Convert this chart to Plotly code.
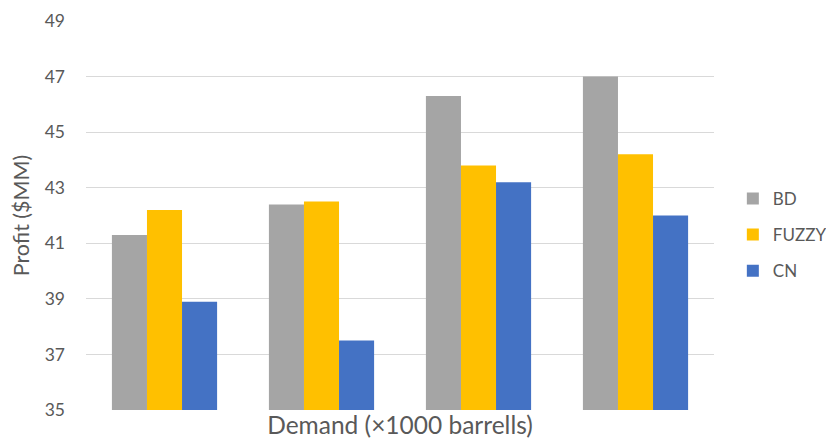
import plotly.graph_objects as go

categories = ["D1", "D2", "D3", "D4"]
bd = [41.3, 42.4, 46.3, 47.0]
fuzzy = [42.2, 42.5, 43.8, 44.2]
cn = [38.9, 37.5, 43.2, 42.0]
y_ticks = [35, 37, 39, 41, 43, 45, 47, 49]

FONT = "Lato"
TXT = "#595959"

fig = go.Figure()
fig.add_trace(go.Bar(name="BD", x=categories, y=bd, marker_color="#A5A5A5", legendgroup="a"))
fig.add_trace(go.Bar(name="FUZZY", x=categories, y=fuzzy, marker_color="#FFC000", legendgroup="b"))
fig.add_trace(go.Bar(name="CN", x=categories, y=cn, marker_color="#4472C4", legendgroup="c"))
fig.update_traces(marker_line_width=0)

fig.update_layout(
    width=826, height=439,
    margin=dict(l=86, r=112, t=20.5, b=29.4, autoexpand=False),
    paper_bgcolor="white", plot_bgcolor="white",
    barmode="group", bargap=0.33, bargroupgap=0,
    font=dict(family=FONT, color=TXT, size=17),
    legend=dict(x=1.030, xanchor="left", xref="paper", y=0.45, yanchor="middle",
                font=dict(size=17, color=TXT), tracegroupgap=11,
                itemclick=False, borderwidth=0),
    showlegend=True,
)
fig.update_xaxes(showticklabels=False, ticks="", showgrid=False, showline=False,
                 zeroline=False,
                 title=dict(text="Demand (×1000 barrells)", font=dict(size=24.5, color=TXT), standoff=8))
fig.update_yaxes(range=[35, 49], tickvals=y_ticks, showgrid=True, gridcolor="#D9D9D9",
                 gridwidth=1.3, zeroline=False, showline=False, ticks="",
                 ticklabelstandoff=20, tickfont=dict(size=17.5, color=TXT),
                 title=dict(text="Profit ($MM)", font=dict(size=21.5, color=TXT), standoff=9))

fig.write_html("out.html")
